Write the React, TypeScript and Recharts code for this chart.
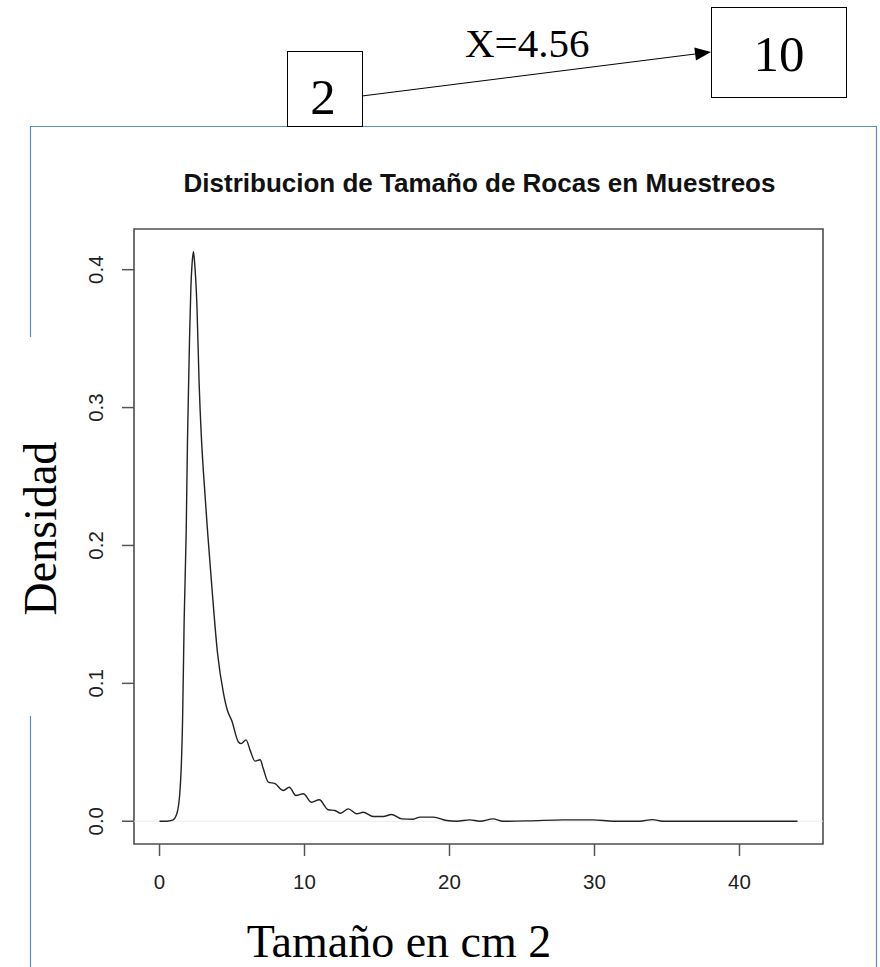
import React from "react";
import { LineChart, Line, XAxis, YAxis, ReferenceArea, ReferenceLine } from "recharts";

const xValues = [
  0, 0.5, 0.9, 1.2, 1.43, 1.59, 1.7, 1.84, 1.93, 2.07, 2.16, 2.25, 2.34, 2.42, 2.58, 2.73,
  2.88, 3.03, 3.33, 3.61, 4.0, 4.41, 4.68, 4.98, 5.44, 5.63, 5.97, 6.25, 6.59, 6.94, 7.16, 7.5,
  7.97, 8.54, 8.95, 9.41, 9.92, 10.49, 11.02, 11.64, 12.1, 12.49, 13.02, 13.59, 14.05,
  14.74, 15.43, 16.0, 16.7, 17.49, 17.96, 18.9, 19.8, 20.5, 21.4, 22.1, 23.0, 23.7, 25.5,
  27.8, 29.9, 31.3, 33.1, 34.0, 34.7, 38.0, 44.0,
];
const densityValues = [
  0, 0, 0.0008, 0.0056, 0.025, 0.073, 0.146, 0.21, 0.277, 0.35, 0.386, 0.405, 0.413, 0.405,
  0.374, 0.318, 0.28, 0.253, 0.208, 0.17, 0.122, 0.093, 0.0805, 0.073, 0.0575, 0.0563, 0.059,
  0.0514, 0.0436, 0.0446, 0.038, 0.0284, 0.0272, 0.0223, 0.0247, 0.0187, 0.0199, 0.0138,
  0.0156, 0.0083, 0.0078, 0.0058, 0.009, 0.0054, 0.0065, 0.0034, 0.0034, 0.0049, 0.0017,
  0.0015, 0.003, 0.003, 0.0005, 0, 0.001, 0, 0.0017, 0, 0.0003, 0.001, 0.001, 0, 0, 0.0012,
  0, 0, 0,
];
const xTicks = [0, 10, 20, 30, 40];
const yTicks = [0, 0.1, 0.2, 0.3, 0.4];
const titleText = "Distribucion de Tamaño de Rocas en Muestreos";
const xLabelText = "Tamaño en cm 2";
const yLabelText = "Densidad";
const annotationFrom = "2";
const annotationTo = "10";
const annotationText = "X=4.56";

const data = xValues.map((x, i) => ({ x, d: densityValues[i] }));

const X_DOMAIN: [number, number] = [-1.76, 45.76];
const Y_DOMAIN: [number, number] = [-0.0165, 0.4295];

const sans = "'Liberation Sans', Arial, Helvetica, sans-serif";
const serif = "'Liberation Serif', 'Times New Roman', serif";

const XTick = (props: any) => {
  const { x, y, payload } = props;
  return (
    <text x={x} y={y} dy={31} textAnchor="middle" fontFamily={sans} fontSize={20.5} fill="#1f1f1f">
      {payload.value}
    </text>
  );
};

const YTick = (props: any) => {
  const { x, y, payload } = props;
  const tx = x - 17;
  return (
    <text
      x={tx}
      y={y}
      textAnchor="middle"
      transform={`rotate(-90, ${tx}, ${y})`}
      fontFamily={sans}
      fontSize={20.5}
      fill="#1f1f1f"
    >
      {Number(payload.value).toFixed(1)}
    </text>
  );
};

export default function App() {
  const ax1 = 362, ay1 = 96, tipX = 711, tipY = 52;
  const dx = tipX - ax1, dy = tipY - ay1;
  const len = Math.sqrt(dx * dx + dy * dy);
  const ux = dx / len, uy = dy / len;
  const headL = 16, headW = 6.5;
  const bx = tipX - ux * headL, by = tipY - uy * headL;
  const nx = -uy, ny = ux;
  const headPts = `${tipX},${tipY} ${bx + nx * headW},${by + ny * headW} ${bx - nx * headW},${by - ny * headW}`;

  return (
    <div style={{ position: "absolute", left: 0, top: 0, width: 880, height: 967, background: "#fff" }}>
      <LineChart width={880} height={967} data={data} margin={{ top: 229, right: 57, bottom: 53, left: 64 }}>
        <XAxis
          dataKey="x"
          type="number"
          domain={X_DOMAIN}
          ticks={xTicks}
          allowDataOverflow
          interval={0}
          axisLine={false}
          tickSize={12}
          tickLine={{ stroke: "#555", strokeWidth: 1.5 }}
          tick={XTick}
          height={70}
        />
        <YAxis
          type="number"
          domain={Y_DOMAIN}
          ticks={yTicks}
          allowDataOverflow
          interval={0}
          axisLine={false}
          tickSize={12}
          tickLine={{ stroke: "#555", strokeWidth: 1.5 }}
          tick={YTick}
          width={70}
        />
        <ReferenceLine y={0} stroke="#ececec" strokeWidth={1} ifOverflow="visible" />
        <ReferenceArea
          x1={X_DOMAIN[0]}
          x2={X_DOMAIN[1]}
          y1={Y_DOMAIN[0]}
          y2={Y_DOMAIN[1]}
          fill="none"
          fillOpacity={0}
          stroke="#4d4d4d"
          strokeWidth={1.6}
          ifOverflow="visible"
        />
        <Line dataKey="d" type="monotone" dot={false} stroke="#222" strokeWidth={1.4} isAnimationActive={false} />
      </LineChart>
      <svg
        width={880}
        height={967}
        style={{ position: "absolute", left: 0, top: 0, pointerEvents: "none" }}
      >
        <path d="M30.5,967 L30.5,126.5 L876.5,126.5 L876.5,967" fill="none" stroke="#5b8ac8" strokeWidth={1.2} />
        <rect x={15} y={337} width={52} height={379} fill="#fff" />
        <text
          x={56}
          y={528.5}
          textAnchor="middle"
          transform="rotate(-90, 56, 528.5)"
          fontFamily={serif}
          fontSize={46}
          fill="#000"
        >
          {yLabelText}
        </text>
        <text x={399} y={957} textAnchor="middle" fontFamily={serif} fontSize={46} fill="#000">
          {xLabelText}
        </text>
        <text x={479.5} y={192} textAnchor="middle" fontFamily={sans} fontWeight="bold" fontSize={26} fill="#111">
          {titleText}
        </text>
        <rect x={287.5} y={51.5} width={75} height={75} fill="#fff" stroke="#000" strokeWidth={1} />
        <text x={323} y={114} textAnchor="middle" fontFamily={serif} fontSize={51} fill="#000">
          {annotationFrom}
        </text>
        <rect x={711.5} y={7.5} width={135} height={90} fill="#fff" stroke="#000" strokeWidth={1} />
        <text x={779} y={71} textAnchor="middle" fontFamily={serif} fontSize={51} fill="#000">
          {annotationTo}
        </text>
        <line x1={ax1} y1={ay1} x2={bx} y2={by} stroke="#000" strokeWidth={1} />
        <polygon points={headPts} fill="#000" />
        <text x={465} y={57} fontFamily={serif} fontSize={41} fill="#000">
          {annotationText}
        </text>
      </svg>
    </div>
  );
}
